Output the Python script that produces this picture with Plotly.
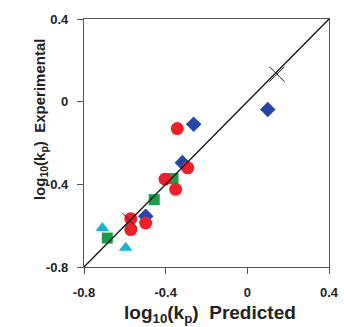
import plotly.graph_objects as go

# Data (log10 kp predicted vs experimental)
tri_x = [-0.710, -0.596]
tri_y = [-0.611, -0.707]
sq_x = [-0.686, -0.456, -0.364]
sq_y = [-0.660, -0.474, -0.372]
dia_x = [0.100, -0.263, -0.318, -0.498]
dia_y = [-0.038, -0.109, -0.295, -0.555]
circ_x = [-0.343, -0.292, -0.403, -0.351, -0.498, -0.571, -0.571]
circ_y = [-0.130, -0.320, -0.375, -0.424, -0.587, -0.566, -0.619]
cross_x = [0.145, -0.576]
cross_y = [0.133, -0.574]
line_x = [-0.8, 0.4]
line_y = [-0.8, 0.4]
ticks = [-0.8, -0.4, 0, 0.4]
tick_labels = ["-0.8", "-0.4", "0", "0.4"]
x_title = "log<sub>10</sub>(k<sub>p</sub>)\u00a0\u00a0Predicted"
y_title = "log<sub>10</sub>(k<sub>p</sub>)\u00a0\u00a0Experimental"

fig = go.Figure()
fig.add_trace(go.Scatter(x=tri_x, y=tri_y, mode="markers",
                         marker=dict(symbol="triangle-up", size=12, color="#1ab2d6")))
fig.add_trace(go.Scatter(x=sq_x, y=sq_y, mode="markers",
                         marker=dict(symbol="square", size=11, color="#17a04a")))
fig.add_trace(go.Scatter(x=dia_x, y=dia_y, mode="markers",
                         marker=dict(symbol="diamond", size=12, color="#2446a6")))
fig.add_trace(go.Scatter(x=circ_x, y=circ_y, mode="markers",
                         marker=dict(symbol="circle", size=13, color="#ee1f26")))
fig.add_trace(go.Scatter(x=line_x, y=line_y, mode="lines",
                         line=dict(color="#111111", width=1.3)))
fig.add_trace(go.Scatter(x=cross_x, y=cross_y, mode="markers",
                         marker=dict(symbol="x-thin-open", size=15, color="#222222",
                                     line=dict(color="#222222", width=1))))

font_b = dict(family="Liberation Sans, Arial", color="#222222", weight="bold")

axis_common = dict(
    tickvals=ticks, ticktext=tick_labels, range=[-0.8, 0.4],
    showline=True, linecolor="#555555", linewidth=1.3, mirror=True,
    ticks="outside", ticklen=6, tickcolor="#555555", tickwidth=1.3,
    showgrid=False, zeroline=False, automargin=False,
    tickfont=dict(**font_b, size=13),
)

fig.update_layout(
    width=344, height=327,
    margin=dict(l=84, r=15, t=19, b=60),
    paper_bgcolor="white", plot_bgcolor="white",
    showlegend=False,
    xaxis=dict(**axis_common, ticklabelstandoff=7),
    yaxis=dict(**axis_common, ticklabelstandoff=6),
    annotations=[
        dict(text=x_title, xref="paper", yref="paper", x=0.514, y=-0.19,
             xanchor="center", yanchor="middle", showarrow=False,
             font=dict(**font_b, size=19)),
        dict(text=y_title, xref="paper", yref="paper", x=-0.18, y=0.596,
             xanchor="center", yanchor="middle", showarrow=False, textangle=-90,
             font=dict(**font_b, size=15)),
    ],
)

fig.write_html("out.html", config={"displayModeBar": False},
               post_script="document.body.style.margin='0';document.body.style.overflow='hidden';")
